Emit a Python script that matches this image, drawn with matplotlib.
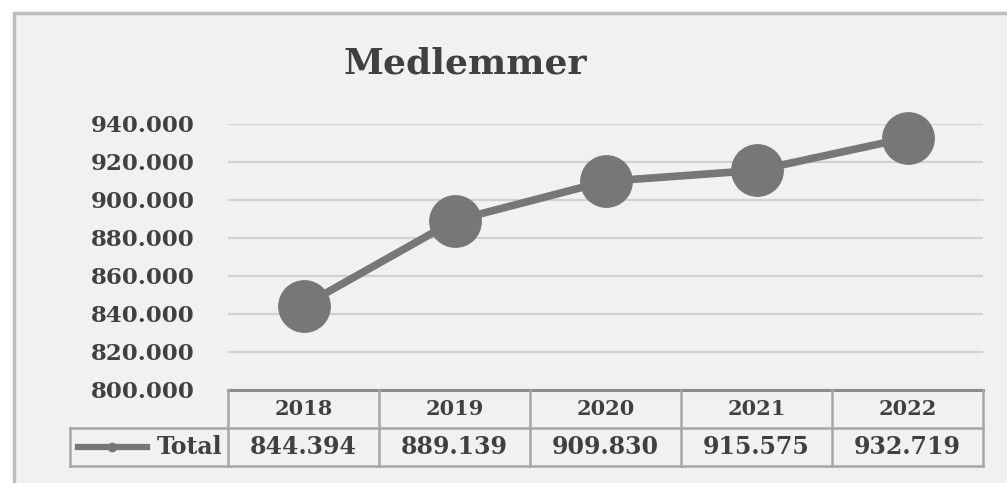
import matplotlib.pyplot as plt
from matplotlib.lines import Line2D
from matplotlib.patches import Rectangle

years = ["2018", "2019", "2020", "2021", "2022"]
members = [844394, 889139, 909830, 915575, 932719]
yticks = [800000, 820000, 840000, 860000, 880000, 900000, 920000, 940000]
title = "Medlemmer"
series_name = "Total"

W, H = 1007, 483
fig = plt.figure(figsize=(W / 100, H / 100), dpi=100)
fig.patch.set_facecolor("white")

def fx(px):
    return px / W

def fy(py):
    return 1 - py / H

FONT = "DejaVu Serif"
TXT = "#404040"
GRID = "#d2d2d2"
BORDER = "#a6a6a6"
LINE = "#777777"

# chart area
bg = Rectangle((fx(14), fy(486)), fx(1010) - fx(14), fy(13) - fy(486),
               transform=fig.transFigure, facecolor="#f1f1f1",
               edgecolor="#bdbdbd", linewidth=2.5, zorder=-5)
fig.patches.append(bg)

L, R, T, B = 228, 983, 124, 390
ax = fig.add_axes([fx(L), fy(B), fx(R) - fx(L), fy(T) - fy(B)], zorder=2)
ax.set_facecolor("none")
ax.patch.set_alpha(0)
x = list(range(len(years)))
ax.plot(x, members, color=LINE, lw=5.5, marker="o", markersize=37,
        markerfacecolor=LINE, markeredgecolor=LINE, clip_on=False, zorder=3,
        solid_capstyle="round")
ax.set_xlim(-0.5, len(years) - 0.5)
ax.set_ylim(800000, 940000)
ax.set_yticks(yticks)
ax.set_yticklabels([f"{v:,}".replace(",", ".") for v in yticks],
                   fontfamily=FONT, fontweight="bold", fontsize=16.5, color=TXT)
ax.tick_params(axis="y", length=0, pad=24)
ax.set_xticks([])
for s in ax.spines.values():
    s.set_visible(False)
ax.grid(axis="y", color=GRID, lw=1.6)
ax.set_axisbelow(True)

fig.text(fx(465), fy(64), title, ha="center", va="center", fontfamily=FONT,
         fontweight="bold", fontsize=26, color=TXT)

# data table
colw = (R - L) / len(years)
r0, r1, r2 = 390, 428, 466
def hline(y, x0, x1, c=BORDER, lw=1.8):
    fig.add_artist(Line2D([fx(x0), fx(x1)], [fy(y), fy(y)], color=c, lw=lw,
                          transform=fig.transFigure, zorder=3))
def vline(xp, y0, y1):
    fig.add_artist(Line2D([fx(xp), fx(xp)], [fy(y0), fy(y1)], color=BORDER, lw=1.8,
                          transform=fig.transFigure, zorder=3))

hline(r0, L, R, c="#8c8c8c", lw=2.2)
hline(r1, 70, R)
hline(r2, 70, R)
for i in range(len(years) + 1):
    vline(L + i * colw, r0, r2)
vline(70, r1, r2)

for i, (yr, v) in enumerate(zip(years, members)):
    cx = L + (i + 0.5) * colw
    fig.text(fx(cx), fy((r0 + r1) / 2), yr, ha="center", va="center",
             fontfamily=FONT, fontweight="bold", fontsize=15, color=TXT)
    fig.text(fx(cx), fy((r1 + r2) / 2), f"{v:,}".replace(",", "."), ha="center",
             va="center", fontfamily=FONT, fontweight="bold", fontsize=17, color=TXT)

fig.add_artist(Line2D([fx(78), fx(147)], [fy(447), fy(447)], color=LINE, lw=4.5,
                      transform=fig.transFigure, zorder=3))
fig.add_artist(Line2D([fx(112)], [fy(447)], color=LINE, marker="o", markersize=6,
                      transform=fig.transFigure, zorder=3))
fig.text(fx(222), fy(447), series_name, ha="right", va="center", fontfamily=FONT,
         fontweight="bold", fontsize=17, color=TXT)

fig.savefig("out.png", dpi=100, facecolor="white")
